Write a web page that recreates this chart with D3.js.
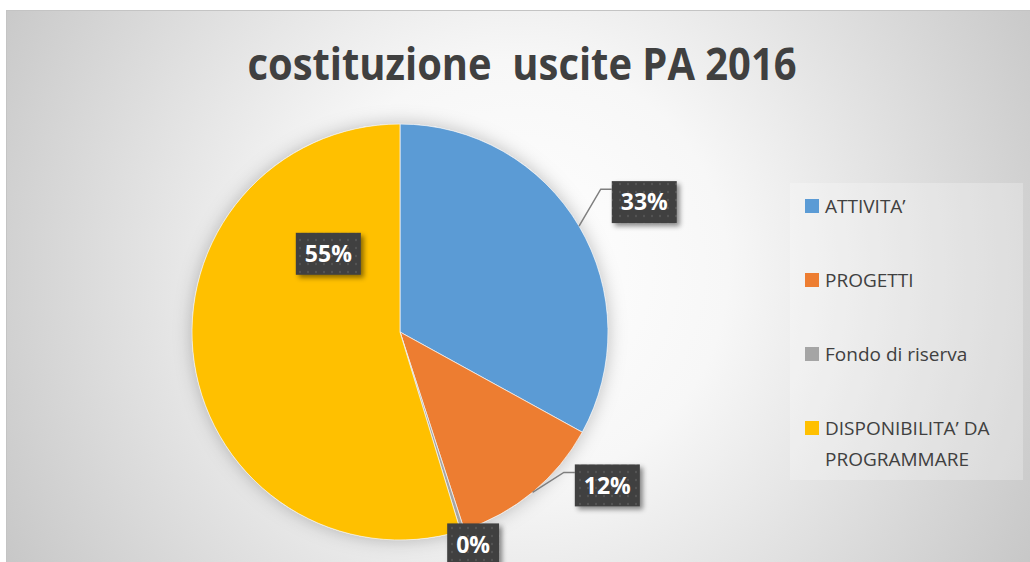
<!DOCTYPE html>
<html>
<head>
<meta charset="utf-8">
<script src="https://cdn.jsdelivr.net/npm/d3@7"></script>
<style>
  body { margin: 0; background: #fff; }
  text { font-family: "Open Sans", "Noto Sans", sans-serif; }
</style>
</head>
<body>
<div id="chart"></div>
<script>
// data
var categories = ["ATTIVITA’", "PROGETTI", "Fondo di riserva", "DISPONIBILITA’ DA PROGRAMMARE"];
var shares = [33.0, 12.0, 0.3, 54.7];
var pctLabels = ["33%", "12%", "0%", "55%"];
var legendLines = [["ATTIVITA’"], ["PROGETTI"], ["Fondo di riserva"], ["DISPONIBILITA’ DA", "PROGRAMMARE"]];
var colors = ["#5b9bd5", "#ed7d31", "#a5a5a5", "#ffc000"];

// label placement: polar position of box centre (deg from 12 o'clock, radius multiple)
var labelPos = [
  {a: 62, k: 1.33, leader: true},
  {a: 126.5, k: 1.24, leader: true},
  {a: 161, k: 1.08, leader: false},
  {a: 317.5, k: 0.51, leader: false}
];

var svgWidth = 1030, svgHeight = 562;
var cx = 400, cy = 332, radius = 208;

var svg = d3.select("#chart").append("svg")
  .attr("width", svgWidth)
  .attr("height", svgHeight);

var defs = svg.append("defs");

// background gradient
var grad = defs.append("radialGradient")
  .attr("id", "bg")
  .attr("gradientUnits", "userSpaceOnUse")
  .attr("cx", 518).attr("cy", 270).attr("r", 600);
grad.append("stop").attr("offset", "0").attr("stop-color", "#ffffff");
grad.append("stop").attr("offset", "0.35").attr("stop-color", "#f7f7f7");
grad.append("stop").attr("offset", "1").attr("stop-color", "#c6c6c6");

// pie shadow
var pieShadow = defs.append("filter").attr("id", "pieShadow")
  .attr("x", "-20%").attr("y", "-20%").attr("width", "140%").attr("height", "140%");
pieShadow.append("feDropShadow")
  .attr("dx", 0).attr("dy", 0).attr("stdDeviation", 9)
  .attr("flood-color", "#000").attr("flood-opacity", 0.25);

// label box shadow
var boxShadow = defs.append("filter").attr("id", "boxShadow")
  .attr("x", "-30%").attr("y", "-30%").attr("width", "160%").attr("height", "160%");
boxShadow.append("feDropShadow")
  .attr("dx", 3).attr("dy", 3).attr("stdDeviation", 2.5)
  .attr("flood-color", "#000").attr("flood-opacity", 0.45);

// dotted fill for label boxes
var pat = defs.append("pattern").attr("id", "dots")
  .attr("patternUnits", "userSpaceOnUse")
  .attr("width", 8).attr("height", 8);
pat.append("rect").attr("width", 8).attr("height", 8).attr("fill", "#404040");
pat.append("circle").attr("cx", 4).attr("cy", 4).attr("r", 1.2).attr("fill", "#525252");

// chart area
svg.append("rect")
  .attr("x", 6.5).attr("y", 10.5)
  .attr("width", svgWidth).attr("height", svgHeight)
  .attr("fill", "url(#bg)")
  .attr("stroke", "#c4c4c4");

// title
svg.append("text")
  .attr("x", 522).attr("y", 80)
  .attr("text-anchor", "middle")
  .attr("font-size", 45)
  .attr("font-weight", "bold")
  .attr("fill", "#404040")
  .attr("textLength", 549)
  .attr("lengthAdjust", "spacingAndGlyphs")
  .text("costituzione  uscite PA 2016")
  .style("white-space", "pre");

// pie
var pie = d3.pie().sort(null).value(d => d);
var arcs = pie(shares);
var arc = d3.arc().innerRadius(0).outerRadius(radius);

var pieGroup = svg.append("g")
  .attr("transform", `translate(${cx}, ${cy})`);

pieGroup.append("circle")
  .attr("r", radius)
  .attr("fill", "#fff")
  .attr("filter", "url(#pieShadow)");

pieGroup.selectAll("path.slice")
  .data(arcs)
  .enter()
  .append("path")
  .attr("class", "slice")
  .attr("d", arc)
  .attr("fill", (d, i) => colors[i])
  .attr("stroke", "#f2f2f2")
  .attr("stroke-width", 0.75);

// data labels
var boxH = 42;
arcs.forEach(function(d, i) {
  var p = labelPos[i];
  var a = p.a * Math.PI / 180;
  var bx = radius * p.k * Math.sin(a);
  var by = -radius * p.k * Math.cos(a);

  var g = pieGroup.append("g");
  var rect = g.append("rect").attr("fill", "url(#dots)").attr("filter", "url(#boxShadow)");
  var t = g.append("text")
    .attr("x", bx).attr("y", by)
    .attr("dy", "0.36em")
    .attr("text-anchor", "middle")
    .attr("font-size", 23)
    .attr("font-weight", "bold")
    .attr("fill", "#fff")
    .text(pctLabels[i]);
  var w = t.node().getComputedTextLength() + 18;
  var left = bx - w / 2, top = by - boxH / 2;
  rect.attr("x", left).attr("y", top).attr("width", w).attr("height", boxH);

  if (p.leader) {
    var m = (d.startAngle + d.endAngle) / 2;
    var sx = radius * Math.sin(m), sy = -radius * Math.cos(m);
    pieGroup.insert("polyline", "g")
      .attr("points", [[sx, sy], [left - 11, top + 8], [left, top + 8]].map(q => q.join(",")).join(" "))
      .attr("fill", "none")
      .attr("stroke", "#7f7f7f")
      .attr("stroke-width", 1.5);
  }
});

// legend
var legend = svg.append("g");
legend.append("rect")
  .attr("x", 790).attr("y", 183)
  .attr("width", 233).attr("height", 297)
  .attr("fill", "#fff").attr("opacity", 0.25);

var rowY = [206, 280, 354, 428];
var items = legend.selectAll("g.item")
  .data(categories)
  .enter()
  .append("g")
  .attr("class", "item")
  .attr("transform", (d, i) => `translate(805, ${rowY[i]})`);

items.append("rect")
  .attr("x", 0).attr("y", -7)
  .attr("width", 14).attr("height", 14)
  .attr("fill", (d, i) => colors[i]);

items.each(function(d, i) {
  var txt = d3.select(this).append("text")
    .attr("x", 20)
    .attr("font-size", 19)
    .attr("fill", "#404040");
  legendLines[i].forEach(function(line, j) {
    txt.append("tspan")
      .attr("x", 20)
      .attr("y", j * 31)
      .attr("dy", "0.36em")
      .text(line);
  });
});
</script>
</body>
</html>
